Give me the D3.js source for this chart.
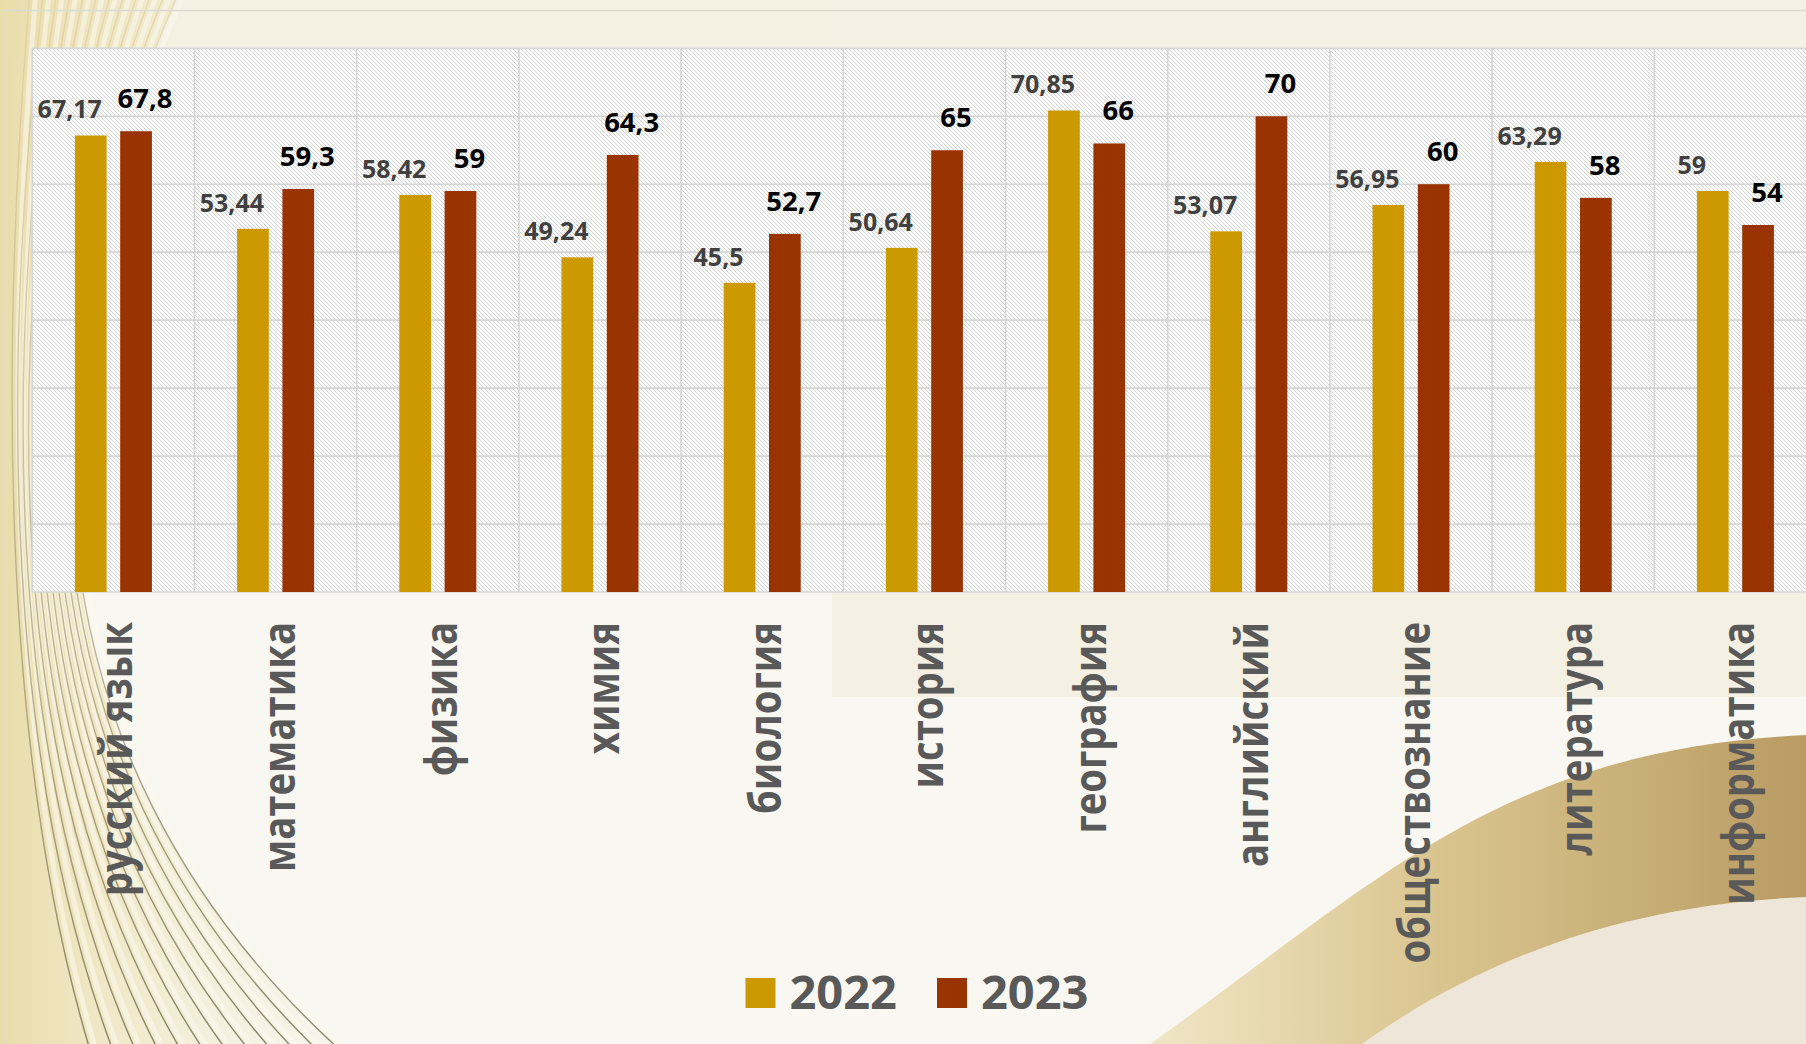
<!DOCTYPE html>
<html>
<head>
<meta charset="utf-8">
<script src="https://cdn.jsdelivr.net/npm/d3@7"></script>
<style>
  html, body { margin: 0; padding: 0; background: #f8f7f1; overflow: hidden; }
  svg { display: block; }
  text { font-family: "Open Sans", "Noto Sans", sans-serif; }
</style>
</head>
<body>
<svg id="chart" width="1806" height="1044"></svg>
<script>
// ---- données ----
var subjects = ["русский язык", "математика", "физика", "химия", "биология", "история",
                "география", "английский", "обществознание", "литература", "информатика"];
var years = ["2022", "2023"];
var scores2022 = [67.17, 53.44, 58.42, 49.24, 45.5, 50.64, 70.85, 53.07, 56.95, 63.29, 59];
var scores2023 = [67.8, 59.3, 59, 64.3, 52.7, 65, 66, 70, 60, 58, 54];
var yTicks = [0, 10, 20, 30, 40, 50, 60, 70, 80];
var colors = ["#cc9900", "#993300"];

var W = 1806, H = 1044;
var plotLeft = 32.3, plotTop = 48.3, plotBottom = 592, catStep = 162.2;

var svg = d3.select("#chart");
var defs = svg.append("defs");

// motif hachuré du fond du graphique
var hatch = defs.append("pattern")
  .attr("id", "hatch")
  .attr("patternUnits", "userSpaceOnUse")
  .attr("width", 4).attr("height", 4);
hatch.append("rect").attr("width", 4).attr("height", 4).attr("fill", "#ffffff");
hatch.append("path")
  .attr("d", "M-1,-1 L5,5 M-1,3 L1,5 M3,-1 L5,1")
  .attr("stroke", "#cdcdcd")
  .attr("stroke-width", 0.9);

// dégradés du décor
var glow = defs.append("linearGradient").attr("id", "glow")
  .attr("gradientUnits", "userSpaceOnUse")
  .attr("x1", 0).attr("y1", 0).attr("x2", 330).attr("y2", 0);
glow.append("stop").attr("offset", 0).attr("stop-color", "#e9dba6").attr("stop-opacity", 0.95);
glow.append("stop").attr("offset", 1).attr("stop-color", "#f4eed6").attr("stop-opacity", 0.2);

var lineGrad = defs.append("linearGradient").attr("id", "lineGrad")
  .attr("gradientUnits", "userSpaceOnUse")
  .attr("x1", 0).attr("y1", 0).attr("x2", 0).attr("y2", H);
lineGrad.append("stop").attr("offset", 0).attr("stop-color", "#d9c98e").attr("stop-opacity", 0.45);
lineGrad.append("stop").attr("offset", 0.55).attr("stop-color", "#8f8a66").attr("stop-opacity", 0.55);
lineGrad.append("stop").attr("offset", 1).attr("stop-color", "#6f6a4c").attr("stop-opacity", 0.8);

var swooshGrad = defs.append("linearGradient").attr("id", "swooshGrad")
  .attr("gradientUnits", "userSpaceOnUse")
  .attr("x1", 1150).attr("y1", 0).attr("x2", 1806).attr("y2", 0);
swooshGrad.append("stop").attr("offset", 0).attr("stop-color", "#f0e6c6");
swooshGrad.append("stop").attr("offset", 0.45).attr("stop-color", "#d9c48e");
swooshGrad.append("stop").attr("offset", 1).attr("stop-color", "#b99b63");

// ---- décor de la diapositive ----
var bg = svg.append("g").attr("class", "background");
bg.append("rect").attr("width", W).attr("height", H).attr("fill", "#f8f7f1");
bg.append("rect").attr("width", W).attr("height", 60).attr("fill", "#f4f0e2");
bg.append("rect").attr("x", 832).attr("width", W - 832).attr("height", 697).attr("fill", "#f4f0e3");

// faisceau de lignes courbes à gauche
function curvePath(t) {
  return "M" + (30 + 150 * t) + ",-10 C" + (20 * t) + ",350 " + (10 * t) + ",750 " + (90 + 250 * t) + ",1050";
}
bg.append("path")
  .attr("d", curvePath(1) + " L0,1050 L0,-10 Z")
  .attr("fill", "url(#glow)");
var nLines = 12;
d3.range(nLines).forEach(function(i) {
  var t = i / (nLines - 1);
  bg.append("path") // ruban clair
    .attr("d", curvePath(t))
    .attr("fill", "none")
    .attr("stroke", "#fbf8ee")
    .attr("stroke-width", 5)
    .attr("opacity", 0.6)
    .attr("transform", "translate(6,0)");
  bg.append("path") // trait fin
    .attr("d", curvePath(t))
    .attr("fill", "none")
    .attr("stroke", "url(#lineGrad)")
    .attr("stroke-width", 1.4);
});

// vague dorée en bas à droite
bg.append("path")
  .attr("d", "M1362,1044 C1480,960 1620,905 1806,897 L1806,1044 Z")
  .attr("fill", "#eee7d9");
bg.append("path")
  .attr("d", "M1150,1044 C1380,880 1500,750 1806,735 L1806,897 C1620,905 1480,960 1362,1044 Z")
  .attr("fill", "url(#swooshGrad)");

// cadre de la zone du graphique
svg.append("rect")
  .attr("x", 3.5).attr("y", 10.5)
  .attr("width", W + 20).attr("height", H + 20)
  .attr("fill", "none")
  .attr("stroke", "#dcdad2")
  .attr("stroke-width", 1.5);

// ---- échelles ----
var x0 = d3.scaleBand()
  .domain(subjects)
  .range([plotLeft, plotLeft + subjects.length * catStep])
  .padding(0);

var x1 = d3.scaleBand()
  .domain(years)
  .range([0, x0.bandwidth()])
  .paddingInner(0.3)
  .paddingOuter(0.94);

var y = d3.scaleLinear()
  .domain([yTicks[0], yTicks[yTicks.length - 1]])
  .range([plotBottom, plotTop]);

var plotRight = x0.range()[1];

// fond hachuré
svg.append("rect")
  .attr("x", plotLeft).attr("y", y(80))
  .attr("width", plotRight - plotLeft)
  .attr("height", plotBottom - y(80))
  .attr("fill", "url(#hatch)");

// quadrillage
var grid = svg.append("g").attr("stroke", "#d6d6d6").attr("stroke-width", 1.7);
grid.selectAll("line.h")
  .data(yTicks)
  .enter().append("line")
  .attr("class", "h")
  .attr("x1", plotLeft).attr("x2", plotRight)
  .attr("y1", function(d) { return y(d); })
  .attr("y2", function(d) { return y(d); });
grid.selectAll("line.v")
  .data(d3.range(subjects.length + 1))
  .enter().append("line")
  .attr("class", "v")
  .attr("x1", function(i) { return plotLeft + i * x0.step(); })
  .attr("x2", function(i) { return plotLeft + i * x0.step(); })
  .attr("y1", y(80)).attr("y2", plotBottom);

// ---- barres ----
var rows = subjects.map(function(s, i) {
  return { subject: s, values: [
    { year: years[0], value: scores2022[i] },
    { year: years[1], value: scores2023[i] }
  ] };
});

var fmt = function(v) { return String(v).replace(".", ","); };

var groups = svg.append("g").selectAll("g")
  .data(rows)
  .enter().append("g")
  .attr("transform", function(d) { return "translate(" + x0(d.subject) + ",0)"; });

groups.selectAll("rect")
  .data(function(d) { return d.values; })
  .enter().append("rect")
  .attr("x", function(d) { return x1(d.year); })
  .attr("y", function(d) { return y(d.value); })
  .attr("width", x1.bandwidth())
  .attr("height", function(d) { return plotBottom - y(d.value); })
  .attr("fill", function(d, i) { return colors[i]; });

// étiquettes de valeurs
groups.selectAll("text")
  .data(function(d) { return d.values; })
  .enter().append("text")
  .attr("x", function(d, i) { return x1(d.year) + x1.bandwidth() / 2 + (i === 0 ? -21 : 9); })
  .attr("y", function(d, i) { return y(d.value) - (i === 0 ? 17 : 23); })
  .attr("text-anchor", "middle")
  .attr("font-size", function(d, i) { return i === 0 ? 25 : 27.5; })
  .attr("font-weight", 700)
  .attr("fill", function(d, i) { return i === 0 ? "#404040" : "#000000"; })
  .text(function(d) { return fmt(d.value); });

// ---- libellés des matières (verticaux, police un peu condensée) ----
svg.append("g").selectAll("text")
  .data(subjects)
  .enter().append("text")
  .attr("transform", function(d) {
    return "translate(" + (x0(d) + x0.bandwidth() / 2 + 19) + ",622) rotate(-90) scale(0.87,1)";
  })
  .attr("text-anchor", "end")
  .attr("font-size", 44)
  .attr("font-weight", 700)
  .attr("fill", "#595959")
  .text(function(d) { return d; });

// ---- légende ----
var legend = svg.append("g").attr("class", "legend");
var items = legend.selectAll("g")
  .data(years)
  .enter().append("g");
items.append("rect")
  .attr("width", 30).attr("height", 30)
  .attr("y", 978)
  .attr("fill", function(d, i) { return colors[i]; });
items.append("text")
  .attr("x", 44).attr("y", 1009)
  .attr("font-size", 47)
  .attr("font-weight", 700)
  .attr("fill", "#595959")
  .text(function(d) { return d; });

// placement horizontal centré
var offs = [], total = 0;
items.each(function(d, i) {
  var w = 44 + this.querySelector("text").getComputedTextLength();
  offs.push(total);
  total += w + (i < years.length - 1 ? 40 : 0);
});
var legendStart = 917 - total / 2;
items.attr("transform", function(d, i) { return "translate(" + (legendStart + offs[i]) + ",0)"; });
</script>
</body>
</html>
